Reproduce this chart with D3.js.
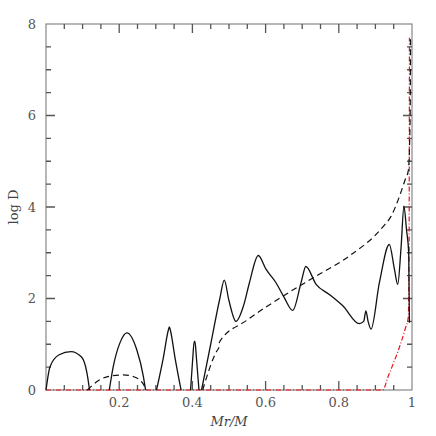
<!DOCTYPE html>
<meta charset="utf-8">
<style>
body { margin: 0; background: #fff; }
svg { display: block; }
.lbl { font-family: "DejaVu Serif", "Liberation Serif", serif; font-size: 13px; fill: #444; }
.tl { font-family: "DejaVu Serif", "Liberation Serif", serif; font-size: 13px; fill: #555; }
</style>
<svg width="436" height="436"></svg>
<script src="https://cdn.jsdelivr.net/npm/d3@7"></script>
<script>

// solid curve (pieces between zero crossings)
var solid1 = [[0,0],[0.011,0.51],[0.036,0.77],[0.068,0.84],[0.097,0.72],[0.112,0.37],[0.119,0]];
var solid2 = [[0.173,0],[0.184,0.52],[0.202,1.03],[0.221,1.25],[0.248,0.88],[0.266,0.3],[0.272,0]];
var solid3 = [[0.302,0],[0.32,0.68],[0.334,1.3],[0.337,1.38],[0.340,1.3],[0.353,0.68],[0.369,0]];
var solid4 = [[0.395,0],[0.401,0.7],[0.405,1.06],[0.407,1.06],[0.411,0.7],[0.418,0]];
var solid5 = [[0.425,0],[0.45,1.0],[0.475,2.0],[0.487,2.40],[0.50,1.95],[0.519,1.5],[0.54,1.85],
  [0.556,2.35],[0.580,2.94],[0.601,2.64],[0.628,2.35],[0.651,2.02],[0.674,1.74],[0.697,2.35],
  [0.710,2.70],[0.738,2.31],[0.774,2.09],[0.811,1.84],[0.856,1.45],[0.868,1.5],[0.874,1.73],
  [0.880,1.5],[0.888,1.33],[0.911,2.35],[0.938,3.18],[0.952,2.64],[0.961,2.31],[0.970,3.1],
  [0.978,4.02],[0.985,3.5],[0.991,3.0],[0.993,1.47]];

// dashed curve
var dash1 = [[0.113,0],[0.148,0.23],[0.18,0.31],[0.211,0.33],[0.24,0.29],[0.262,0.17],[0.275,0]];
var dash2 = [[0.428,0],[0.468,0.87],[0.472,0.92],[0.474,1.05],[0.548,1.52],[0.647,2.05],
  [0.738,2.49],[0.829,2.93],[0.921,3.57],[0.943,3.8],[0.967,4.26],[0.981,4.59],[0.990,4.8],
  [0.995,6.0],[0.996,7.72]];

// red dash-dot curve
var red1 = [[0,0],[0.92,0],[0.935,0.3],[0.949,0.58],[0.962,0.85],[0.972,1.09],[0.982,1.35],
  [0.990,1.6],[0.992,3.0],[0.993,7.7]];

var xMajor = [0.2, 0.4, 0.6, 0.8, 1];
var yMajor = [0, 2, 4, 6, 8];

var svg = d3.select("svg"),
    margin = {top: 24, right: 24, bottom: 46, left: 46},
    width = 436 - margin.left - margin.right,
    height = 436 - margin.top - margin.bottom;

var x = d3.scaleLinear().domain([0, 1]).range([0, width]);
var y = d3.scaleLinear().domain([0, 8]).range([height, 0]);

var g = svg.append("g").attr("transform", "translate(" + margin.left + "," + margin.top + ")");

g.append("clipPath").attr("id", "clip")
  .append("rect").attr("x", -2).attr("y", -2).attr("width", width + 2).attr("height", height + 4);

// frame first, curves go over it
g.append("rect").attr("width", width).attr("height", height)
  .attr("fill", "none").attr("stroke", "#888").attr("stroke-width", 1.2);

// inward ticks on all four sides: major every 0.2 / 2, minor every 0.05 / 0.5
var xTicks = d3.range(1, 20).map(function(i) { return {v: i * 0.05, major: i % 4 === 0}; });
var yTicks = d3.range(1, 16).map(function(i) { return {v: i * 0.5, major: i % 4 === 0}; });
var len = function(d) { return d.major ? 9 : 5; };

var tickPath = "";
xTicks.forEach(function(d) {
  var px = x(d.v);
  tickPath += "M" + px + "," + height + "V" + (height - len(d));
  tickPath += "M" + px + ",0V" + len(d);
});
yTicks.forEach(function(d) {
  var py = y(d.v);
  tickPath += "M0," + py + "H" + len(d);
  tickPath += "M" + width + "," + py + "H" + (width - len(d));
});
g.append("path").attr("d", tickPath)
  .attr("fill", "none").attr("stroke", "#555").attr("stroke-width", 1.3);

g.selectAll(".xl").data(xMajor).enter().append("text").attr("class", "tl")
  .attr("x", function(d) { return x(d); }).attr("y", height + 17)
  .attr("text-anchor", "middle")
  .text(function(d) { return d === 1 ? "1" : d3.format(".1f")(d); });

g.selectAll(".ylb").data(yMajor).enter().append("text").attr("class", "tl")
  .attr("x", -10).attr("y", function(d) { return y(d); }).attr("dy", "0.35em")
  .attr("text-anchor", "end")
  .text(function(d) { return d; });

var line = d3.line()
  .x(function(d) { return x(d[0]); })
  .y(function(d) { return y(d[1]); })
  .curve(d3.curveMonotoneX);

var lines = g.append("g").attr("clip-path", "url(#clip)");

lines.append("path").datum(red1)
  .attr("d", line).attr("fill", "none").attr("stroke", "#e8141c")
  .attr("stroke-width", 1.2).attr("stroke-dasharray", "5,2,1,2");

[dash1, dash2].forEach(function(s) {
  lines.append("path").datum(s)
    .attr("d", line).attr("fill", "none").attr("stroke", "#111")
    .attr("stroke-width", 1.2).attr("stroke-dasharray", "6,4");
});

[solid1, solid2, solid3, solid4, solid5].forEach(function(s) {
  lines.append("path").datum(s)
    .attr("d", line).attr("fill", "none").attr("stroke", "#111")
    .attr("stroke-width", 1.3);
});

svg.append("text").attr("class", "lbl")
  .attr("x", margin.left + width / 2).attr("y", 426)
  .attr("text-anchor", "middle").style("font-style", "italic")
  .text("Mr/M");

svg.append("text").attr("class", "lbl")
  .attr("transform", "translate(18," + (margin.top + height / 2) + ") rotate(-90)")
  .attr("text-anchor", "middle")
  .text("log D");

</script>
